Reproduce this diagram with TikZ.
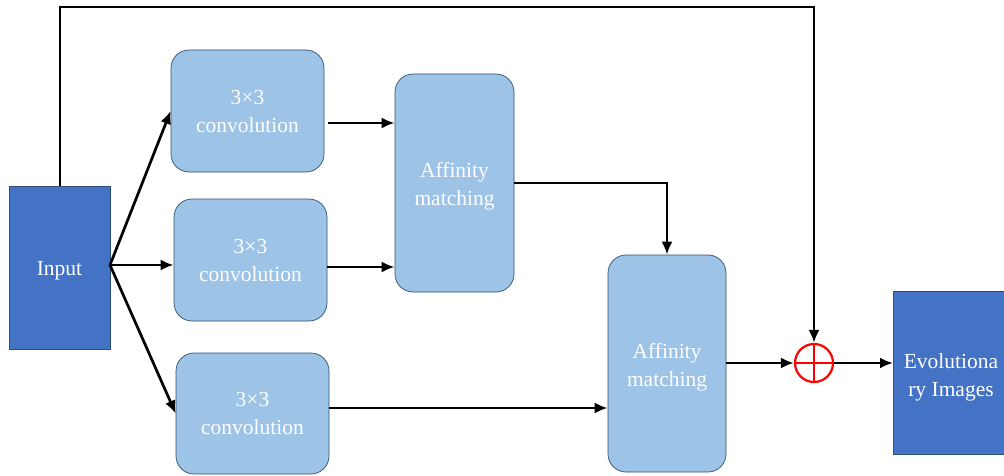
\documentclass[tikz,border=0pt]{standalone}
\usepackage{fontspec}
\setmainfont{Liberation Serif}
\usetikzlibrary{arrows.meta}
\definecolor{darkblue}{HTML}{4472C4}
\definecolor{lightblue}{HTML}{9DC3E6}
\definecolor{edgeblue}{HTML}{2F4F6F}
\begin{document}
\begin{tikzpicture}[x=1pt,y=-1pt,
  txt/.style={text=white,font=\fontsize{21.5}{28}\selectfont,align=center},
  darkbox/.style={draw=edgeblue,line width=0.7pt,fill=darkblue,inner sep=0pt,txt},
  convbox/.style={draw=edgeblue,line width=0.7pt,fill=lightblue,rounded corners=18pt,inner sep=0pt,txt},
  lowtxt/.style={label={[txt,yshift=-3.5pt]center:#1}},
  conn/.style={line width=2.7pt,-{Latex[length=13pt,width=11pt]}}]
\useasboundingbox (0,0) rectangle (1004,476);
\clip (0,0) rectangle (1004,476);
\node[darkbox,minimum width=101pt,minimum height=163pt,lowtxt={Input}] (in) at (59.5,267.5) {};
\node[convbox,minimum width=153pt,minimum height=122pt] (c1) at (247.5,111) {3×3\\convolution};
\node[convbox,minimum width=153pt,minimum height=122pt] (c2) at (250.5,260) {3×3\\convolution};
\node[convbox,minimum width=153pt,minimum height=121pt] (c3) at (252.5,413.5) {3×3\\convolution};
\node[convbox,minimum width=119pt,minimum height=218pt,lowtxt={Affinity\\matching}] (a1) at (454.5,183) {};
\node[convbox,minimum width=118pt,minimum height=217pt,lowtxt={Affinity\\matching}] (a2) at (667,363.5) {};
\node[draw=red,line width=2.2pt,circle,minimum size=38pt,inner sep=0pt] (p) at (814,363) {};
\draw[red,line width=2.2pt] (p.north) -- (p.south) (p.west) -- (p.east);
\node[darkbox,minimum width=120pt,minimum height=163pt,anchor=west] (ev) at (893,373) {};
\node[txt] (evt) at (951,377) {Evolutiona\\ry Images};
% connectors
\coordinate (inout) at (110,265);
\draw[conn] (inout) -- (c1.west);
\draw[conn] (inout) -- (c2.west |- inout);
\draw[conn] (inout) -- (c3.west);
\draw[conn] (c1.east |- 0,123) ++(4,0) -- (a1.west |- 0,123);
\draw[conn] (c2.east |- 0,267) -- (a1.west |- 0,267);
\draw[conn] (c3.east |- 0,408) -- (a2.west |- 0,408);
\draw[conn] (a1.east |- 0,183) -| (a2.north);
\draw[conn] (a2.east |- p.west) -- (p.west);
\draw[conn] (p.east) -- (ev.west |- p.east);
\coordinate (tl) at (60,7);
\draw[conn] (in.north -| 60,0) -- (tl) -| (p.north);
\end{tikzpicture}
\end{document}
